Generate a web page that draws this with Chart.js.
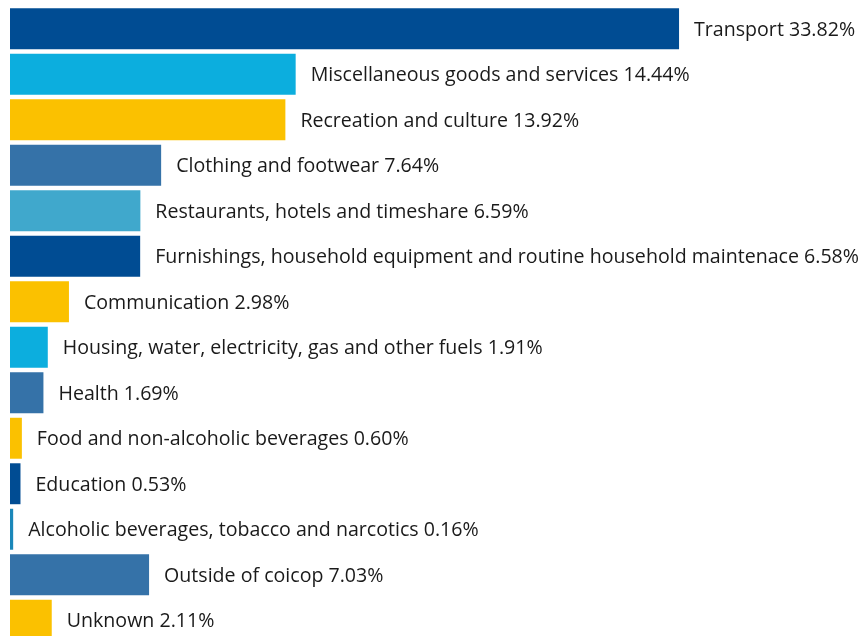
<!DOCTYPE html>
<html>
<head>
<meta charset="utf-8">
<script src="https://cdn.jsdelivr.net/npm/chart.js@4"></script>
<style>
    html, body { margin: 0; padding: 0; background: #fff; overflow: hidden; }
    #wrap { width: 866px; height: 643px; }
</style>
</head>
<body>
<div id="wrap"><canvas id="myChart"></canvas></div>
<script>
const categories = [
    'Transport',
    'Miscellaneous goods and services',
    'Recreation and culture',
    'Clothing and footwear',
    'Restaurants, hotels and timeshare',
    'Furnishings, household equipment and routine household maintenace',
    'Communication',
    'Housing, water, electricity, gas and other fuels',
    'Health',
    'Food and non-alcoholic beverages',
    'Education',
    'Alcoholic beverages, tobacco and narcotics',
    'Outside of coicop',
    'Unknown'
];
const shares = [33.82, 14.44, 13.92, 7.64, 6.59, 6.58, 2.98, 1.91, 1.69, 0.60, 0.53, 0.16, 7.03, 2.11];
const barColors = [
    '#004c93', '#0caede', '#fbc100', '#3572a8', '#40a8cc', '#004c93', '#fbc100',
    '#0caede', '#3572a8', '#fbc100', '#004c93', '#1a87b9', '#3572a8', '#fbc100'
];

// draws "Name 12.34%" to the right of every bar
const barLabels = {
    id: 'barLabels',
    afterDatasetsDraw(chart) {
        const ctx = chart.ctx;
        const meta = chart.getDatasetMeta(0);
        ctx.save();
        ctx.font = '19.6px "Open Sans", sans-serif';
        ctx.fillStyle = '#1a1a1a';
        ctx.textBaseline = 'middle';
        meta.data.forEach((bar, i) => {
            const text = categories[i] + ' ' + shares[i].toFixed(2) + '%';
            ctx.fillText(text, bar.x + 15, bar.y + 1.5);
        });
        ctx.restore();
    }
};

new Chart(document.getElementById('myChart'), {
    type: 'bar',
    data: {
        labels: categories,
        datasets: [{
            data: shares,
            backgroundColor: barColors,
            borderWidth: 0,
            barPercentage: 0.9,
            categoryPercentage: 1
        }]
    },
    options: {
        indexAxis: 'y',
        responsive: true,
        maintainAspectRatio: false,
        animation: false,
        layout: { padding: { left: 10, right: 0, top: 6, bottom: 0 } },
        plugins: {
            legend: { display: false },
            tooltip: { enabled: false }
        },
        scales: {
            x: { display: false, min: 0, max: 43.27 },
            y: { display: false }
        }
    },
    plugins: [barLabels]
});
</script>
</body>
</html>
